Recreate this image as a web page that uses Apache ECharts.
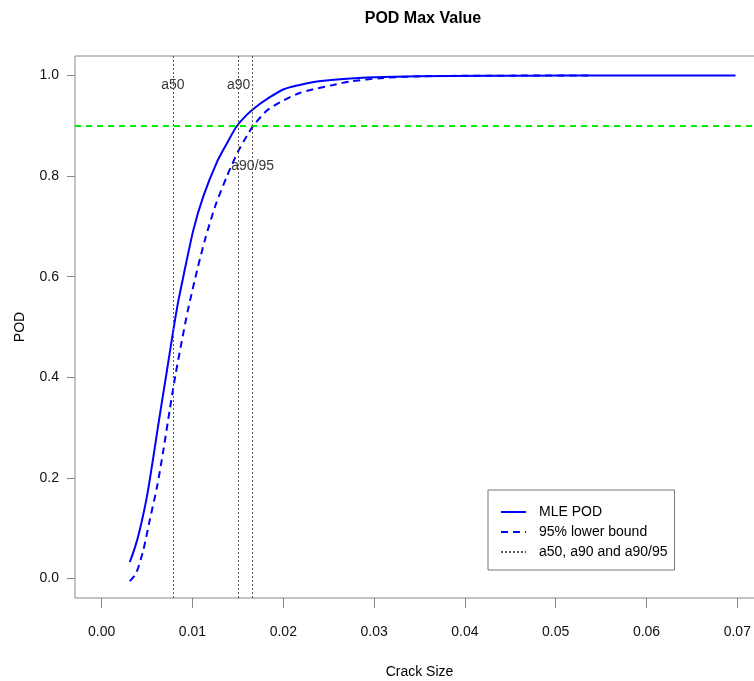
<!DOCTYPE html>
<html><head><meta charset="utf-8">
<script src="https://cdn.jsdelivr.net/npm/echarts@6/dist/echarts.min.js"></script>
<style>html,body{margin:0;padding:0;background:#fff}#c{width:754px;height:681px}</style>
</head><body><div id="c"></div>
<script>
// ---- data ----
const mleX = [0.0031, 0.0037, 0.0042, 0.0050, 0.0057, 0.0064, 0.0072, 0.0079, 0.0084, 0.0090, 0.0101, 0.0112, 0.0127, 0.0138, 0.0148, 0.0160, 0.0174, 0.0182, 0.0200, 0.0218, 0.0237, 0.0274, 0.0310, 0.0384, 0.0470, 0.0550, 0.0698];
const mleY = [0.033, 0.064, 0.097, 0.165, 0.243, 0.325, 0.415, 0.495, 0.548, 0.601, 0.693, 0.760, 0.828, 0.865, 0.897, 0.922, 0.943, 0.953, 0.972, 0.981, 0.988, 0.994, 0.997, 0.999, 0.9995, 1.0, 1.0];
const lowX = [0.0031, 0.0038, 0.0046, 0.0053, 0.0061, 0.0068, 0.0075, 0.0081, 0.0088, 0.0095, 0.0105, 0.0114, 0.0125, 0.0138, 0.0150, 0.0160, 0.0167, 0.0182, 0.0200, 0.0218, 0.0237, 0.0255, 0.0274, 0.0310, 0.0347, 0.0384, 0.0450, 0.0538];
const lowY = [-0.005, 0.011, 0.058, 0.117, 0.183, 0.256, 0.336, 0.402, 0.470, 0.534, 0.612, 0.675, 0.740, 0.800, 0.848, 0.880, 0.900, 0.930, 0.950, 0.965, 0.974, 0.981, 0.988, 0.995, 0.998, 0.999, 0.9995, 1.0];
const refNames = ['a50', 'a90', 'a90/95'];
const refX = [0.00785, 0.01509, 0.01663];
const refLabelY = [0.98, 0.98, 0.82];
const targetPOD = 0.9;
const xTicks = [0, 0.01, 0.02, 0.03, 0.04, 0.05, 0.06, 0.07];
const yTicks = [0, 0.2, 0.4, 0.6, 0.8, 1.0];
const seriesNames = ['MLE POD', '95% lower bound', 'a50, a90 and a90/95'];
const titleText = 'POD Max Value';
const xName = 'Crack Size';
const yName = 'POD';

const FONT = '"Liberation Sans",Arial,Helvetica,sans-serif';
const zip = (xs, ys) => xs.map((x, i) => [x, ys[i]]);

const chart = echarts.init(document.getElementById('c'), null, {renderer: 'canvas'});
chart.setOption({
  animation: false,
  backgroundColor: '#fff',
  textStyle: {fontFamily: FONT},
  title: {
    text: titleText, left: 418, top: 6, textAlign: 'center',
    textStyle: {fontSize: 16, fontWeight: 'bold', color: '#000', fontFamily: FONT}
  },
  grid: {left: 75, top: 56, width: 689, height: 542, show: true, borderColor: '#888', borderWidth: 1,
         backgroundColor: 'transparent', containLabel: false, outerBoundsMode: 'none'},
  xAxis: {
    type: 'value', min: -0.00294, max: 0.07294,
    name: xName, nameLocation: 'middle', nameGap: 67,
    nameTextStyle: {fontSize: 14, color: '#000', fontFamily: FONT},
    axisLine: {show: false, onZero: false},
    splitLine: {show: false},
    axisTick: {show: true, inside: false, customValues: xTicks, length: 10, lineStyle: {color: '#888'}},
    axisLabel: {customValues: xTicks, formatter: v => v.toFixed(2), margin: 27, fontSize: 14, color: '#111', fontFamily: FONT}
  },
  yAxis: {
    type: 'value', min: -0.0385, max: 1.0385,
    name: yName, nameLocation: 'middle', nameGap: 48,
    nameTextStyle: {fontSize: 14, color: '#000', fontFamily: FONT},
    axisLine: {show: false, onZero: false},
    splitLine: {show: false},
    axisTick: {show: true, inside: false, customValues: yTicks, length: 8, lineStyle: {color: '#888'}},
    axisLabel: {customValues: yTicks, formatter: v => v.toFixed(1), margin: 16, fontSize: 14, color: '#111', fontFamily: FONT}
  },
  legend: {
    data: seriesNames, orient: 'vertical', left: 488, top: 490,
    padding: [15, 7, 11, 12], itemWidth: 25, itemHeight: 14, itemGap: 6,
    borderColor: '#777', borderWidth: 1, selectedMode: false,
    itemStyle: {color: 'rgba(0,0,0,0)', borderWidth: 0, opacity: 0},
    textStyle: {fontSize: 14, color: '#000', fontFamily: FONT, padding: [0, 0, 0, 8]}
  },
  series: [
    {
      name: seriesNames[0], type: 'line', data: zip(mleX, mleY), symbol: 'none', showSymbol: false,
      smooth: 0.25,
      lineStyle: {color: '#0000ff', width: 2}, itemStyle: {color: '#0000ff'}, z: 3,
      markLine: {
        silent: true, symbol: ['none', 'none'], label: {show: false}, precision: 6,
        lineStyle: {color: '#00ee00', width: 2, type: [6, 5]},
        data: [{yAxis: targetPOD}]
      }
    },
    {
      name: seriesNames[1], type: 'line', data: zip(lowX, lowY), symbol: 'none', showSymbol: false,
      smooth: 0.25,
      lineStyle: {color: '#0000ff', width: 2, type: [7, 5]}, itemStyle: {color: '#0000ff'}, z: 3
    },
    {
      name: seriesNames[2], type: 'line', data: [], symbol: 'none', showSymbol: false,
      lineStyle: {color: '#555', width: 1, type: [2, 2]}, itemStyle: {color: '#555'}
    },
    {
      name: 'labels', type: 'scatter', symbolSize: 0, silent: true,
      data: refX.map((x, i) => [x, refLabelY[i], refNames[i]]),
      label: {show: true, position: 'inside', formatter: p => p.data[2], fontSize: 14, color: '#000', fontFamily: FONT},
      markLine: {
        silent: true, symbol: ['none', 'none'], label: {show: false}, precision: 8,
        lineStyle: {color: '#555', width: 1, type: [2, 2]},
        data: refX.map(v => ({xAxis: v}))
      }
    }
  ]
});
</script></body></html>
